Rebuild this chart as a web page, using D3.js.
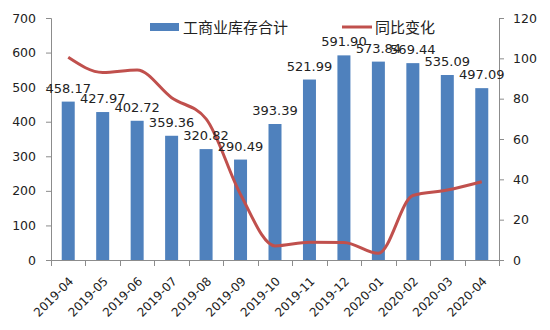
<!DOCTYPE html>
<html><head><meta charset="utf-8">
<script src="https://cdn.jsdelivr.net/npm/d3@7"></script>
<style>body{margin:0;background:#fff}svg{display:block}</style>
</head><body>
<svg id="c" width="550" height="330"></svg>
<script>
const categories = ["2019-04","2019-05","2019-06","2019-07","2019-08","2019-09","2019-10","2019-11","2019-12","2020-01","2020-02","2020-03","2020-04"];
const inventory = [458.17,427.97,402.72,359.36,320.82,290.49,393.39,521.99,591.90,573.84,569.44,535.09,497.09];
const yoy = [100.5,93,94.2,80.5,70,32.5,7,8.8,8.7,3.3,32,34.7,38.8];
const leftTicks = [0,100,200,300,400,500,600,700];
const rightTicks = [0,20,40,60,80,100,120];
const seriesNames = ["工商业库存合计","同比变化"];

const svg = d3.select("#c");
const m = {l:51, r:499, t:18, b:260};
const font = "'DejaVu Sans', Verdana, sans-serif";
const x = d3.scaleBand().domain(categories).range([m.l, m.r]).paddingInner(0).paddingOuter(0);
const yL = d3.scaleLinear().domain([0,700]).range([m.b, m.t]);
const yR = d3.scaleLinear().domain([0,120]).range([m.b, m.t]);
const axisColor = "#8c8c8c";
const bw = 13;

// bars
svg.append("g").selectAll("rect").data(categories).join("rect")
  .attr("x", d => x(d) + x.bandwidth()/2 - bw/2)
  .attr("y", (d,i) => yL(inventory[i]))
  .attr("width", bw)
  .attr("height", (d,i) => m.b - yL(inventory[i]))
  .attr("fill", "#4F81BD");

// left axis
const gL = svg.append("g").attr("transform", `translate(${m.l},0)`)
  .call(d3.axisLeft(yL).tickValues(leftTicks).tickSize(5).tickPadding(10));
// right axis
const gR = svg.append("g").attr("transform", `translate(${m.r},0)`)
  .call(d3.axisRight(yR).tickValues(rightTicks).tickSize(5).tickPadding(9));
// bottom axis
const boundaries = d3.range(categories.length+1).map(i => m.l + i*x.bandwidth());
const gB = svg.append("g");
gB.append("line").attr("x1", m.l).attr("x2", m.r).attr("y1", m.b+0.5).attr("y2", m.b+0.5).attr("stroke", axisColor);
gB.selectAll("line.t").data(boundaries).join("line").attr("class","t")
  .attr("x1", d => Math.round(d)+0.5).attr("x2", d => Math.round(d)+0.5)
  .attr("y1", m.b).attr("y2", m.b+6).attr("stroke", axisColor);
gB.selectAll("text").data(categories).join("text")
  .attr("transform", d => `translate(${x(d)+x.bandwidth()/2+6},${m.b+22}) rotate(-45)`)
  .attr("text-anchor","end")
  .attr("font-family", font).attr("font-size", 12).attr("fill","#222")
  .text(d => d);

[gL,gR].forEach(g => {
  g.select(".domain").attr("stroke", axisColor);
  g.selectAll(".tick line").attr("stroke", axisColor);
  g.selectAll(".tick text").attr("font-family", font).attr("font-size", 12.5).attr("fill", "#222");
});

// line
const line = d3.line()
  .x((d,i) => x(categories[i]) + x.bandwidth()/2)
  .y(d => yR(d))
  .curve(d3.curveMonotoneX);
svg.append("path").datum(yoy).attr("d", line)
  .attr("fill","none").attr("stroke","#C0504D").attr("stroke-width",3).attr("stroke-linejoin","round");

// bar labels
svg.append("g").selectAll("text").data(categories).join("text")
  .attr("x", d => x(d) + x.bandwidth()/2)
  .attr("y", (d,i) => yL(inventory[i]) - 9)
  .attr("text-anchor","middle")
  .attr("font-family", font).attr("font-size", 13).attr("fill","#222")
  .text((d,i) => inventory[i].toFixed(2));

// legend
const lg = svg.append("g");
lg.append("rect").attr("x",150).attr("y",23).attr("width",29).attr("height",8).attr("fill","#4F81BD");
lg.append("text").attr("x",183).attr("y",33).attr("font-family","'Noto Sans CJK SC', sans-serif").attr("font-size",15).attr("fill","#222").text(seriesNames[0]);
lg.append("line").attr("x1",342).attr("x2",372).attr("y1",27).attr("y2",27).attr("stroke","#C0504D").attr("stroke-width",3);
lg.append("text").attr("x",375).attr("y",33).attr("font-family","'Noto Sans CJK SC', sans-serif").attr("font-size",15).attr("fill","#222").text(seriesNames[1]);
</script>
</body></html>
